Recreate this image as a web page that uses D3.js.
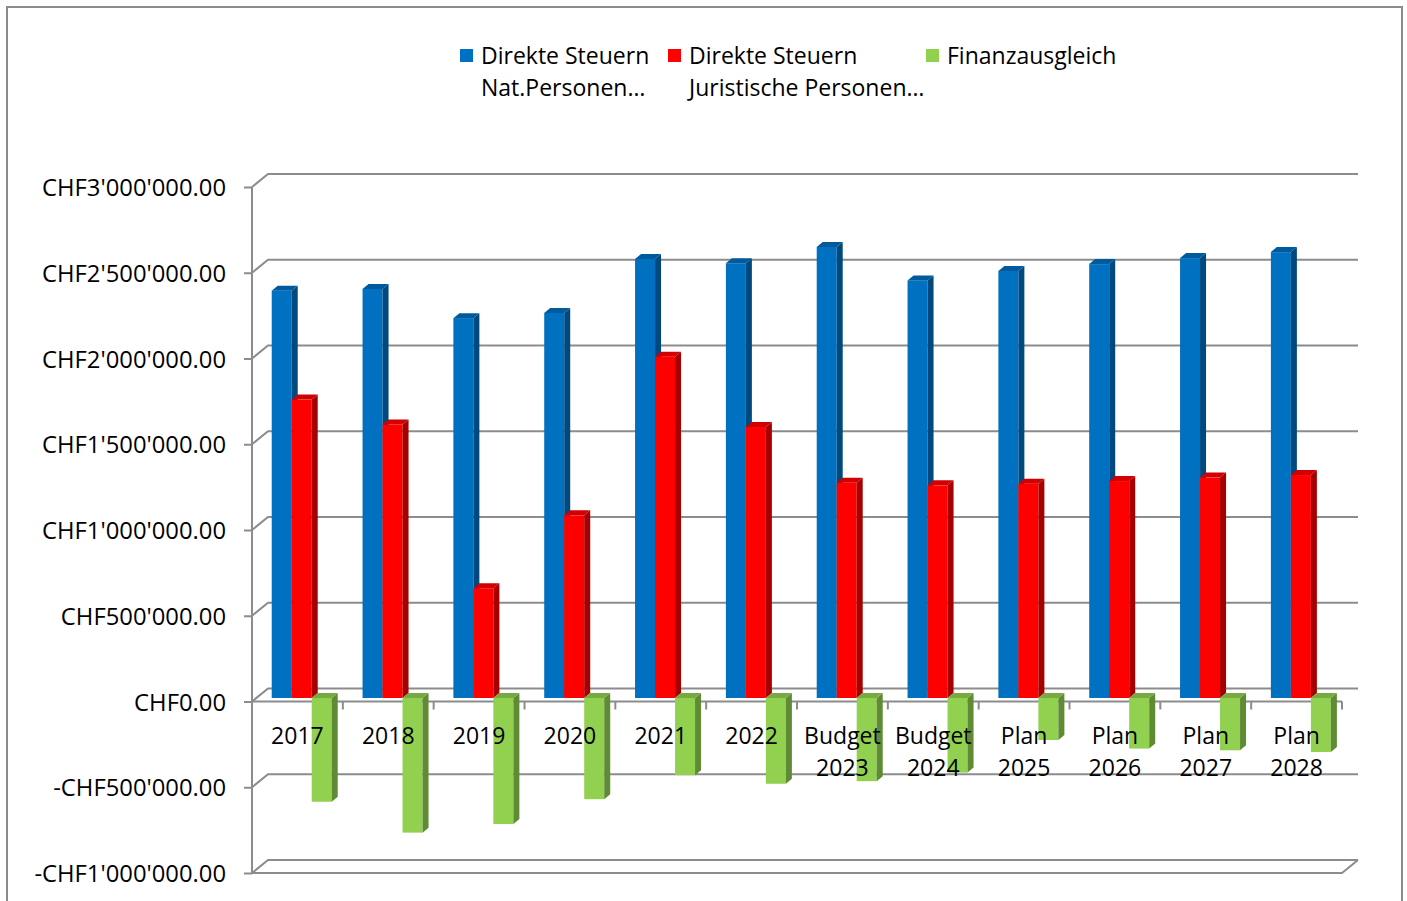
<!DOCTYPE html>
<html>
<head>
<meta charset="utf-8">
<script src="https://d3js.org/d3.v7.min.js"></script>
<style>
  body { margin: 0; background: #fff; }
  text { font-family: "Open Sans", "Noto Sans", sans-serif; fill: #000; }
</style>
</head>
<body>
<svg width="1407" height="901"></svg>
<script>
// data
var categories = ["2017", "2018", "2019", "2020", "2021", "2022",
  "Budget 2023", "Budget 2024", "Plan 2025", "Plan 2026", "Plan 2027", "Plan 2028"];
var natPersonen = [2375000, 2385000, 2215000, 2245000, 2560000, 2535000,
  2630000, 2435000, 2490000, 2530000, 2565000, 2600000];
var jurPersonen = [1740000, 1595000, 640000, 1065000, 1990000, 1580000,
  1255000, 1240000, 1250000, 1265000, 1285000, 1300000];
var finanzausgleich = [-605000, -785000, -735000, -590000, -450000, -500000,
  -485000, -435000, -245000, -295000, -305000, -315000];
var seriesNames = [["Direkte Steuern", "Nat.Personen…"],
  ["Direkte Steuern", "Juristische Personen…"],
  ["Finanzausgleich"]];
var yTicks = [-1000000, -500000, 0, 500000, 1000000, 1500000, 2000000, 2500000, 3000000];

var svg = d3.select("svg");
var fontSize = 23;

// chart frame
svg.append("rect")
  .attr("x", 7).attr("y", 7)
  .attr("width", 1395).attr("height", 910)
  .attr("fill", "none").attr("stroke", "#8c8c8c").attr("stroke-width", 2);

var left = 252, right = 1342,
    depthX = 16, depthY = 13;   // 3d offset of back wall

var x0 = d3.scaleBand().domain(categories).range([left, right]);
var x1 = d3.scaleBand().domain([0, 1, 2]).range([0, 60]);
var y = d3.scaleLinear().domain([-1000000, 3000000]).range([873, 187]);

var colors = [
  {front: "#0070C0", side: "#00497f", top: "#005a9c"},
  {front: "#FF0000", side: "#a60000", top: "#d20000"},
  {front: "#92D050", side: "#5f8b34", top: "#77aa41"}
];

var grid = svg.append("g")
  .attr("stroke", "#8c8c8c").attr("stroke-width", 2).attr("fill", "none");

// back wall gridlines with diagonal on the side wall
yTicks.forEach(function(t) {
  var yf = y(t);
  grid.append("path")
    .attr("d", "M" + left + "," + yf + "L" + (left + depthX) + "," + (yf - depthY) +
      "H" + (right + depthX));
});
// floor at zero (front edge) and base at bottom
grid.append("path").attr("d", "M" + left + "," + y(0) + "H" + right);
grid.append("path").attr("d", "M" + left + "," + y(-1000000) + "H" + right +
  "L" + (right + depthX) + "," + (y(-1000000) - depthY));
// vertical axis
grid.append("path").attr("d", "M" + left + "," + y(3000000) + "V" + y(-1000000));

// category boundary ticks
grid.selectAll(".ctick")
  .data(categories)
  .enter().append("path")
  .attr("d", function(d) {
    var xx = x0(d) + x0.bandwidth();
    return "M" + xx + "," + y(0) + "V" + (y(0) + 8);
  });

// y axis labels
var locale = d3.formatLocale({decimal: ".", thousands: "'", grouping: [3],
  currency: ["CHF", ""], minus: "-"});
var fmt = locale.format("$,.2f");

var yAxis = svg.append("g")
  .attr("transform", "translate(" + left + ",0)")
  .call(d3.axisLeft(y).tickValues(yTicks).tickFormat(fmt).tickSize(8).tickPadding(18));
yAxis.select(".domain").remove();
yAxis.selectAll(".tick line").attr("stroke", "#8c8c8c").attr("stroke-width", 2);
yAxis.selectAll(".tick text")
  .style("font-family", "'Open Sans', sans-serif")
  .attr("font-size", 23.8).attr("dy", "0.36em");

// bars
var barW = x1.bandwidth(),
    bdx = 6, bdy = 5,         // bar depth
    barShiftY = -3.5;         // bars sit in the middle of the floor depth

var seriesData = [natPersonen, jurPersonen, finanzausgleich];
var bars = svg.append("g");

categories.forEach(function(c, i) {
  var gx = x0(c) + (x0.bandwidth() - 60) / 2 + 4.3;
  seriesData.forEach(function(vals, s) {
    var v = vals[i];
    var xl = gx + x1(s);
    var y0 = y(0) + barShiftY, yv = y(v) + barShiftY;
    var yTop = Math.min(y0, yv), yBot = Math.max(y0, yv);
    var col = colors[s];
    var g = bars.append("g");
    g.append("rect")
      .attr("x", xl).attr("y", yTop)
      .attr("width", barW).attr("height", yBot - yTop)
      .attr("fill", col.front);
    g.append("path")
      .attr("d", "M" + (xl + barW) + "," + yTop + "l" + bdx + "," + (-bdy) +
        "V" + (yBot - bdy) + "l" + (-bdx) + "," + bdy + "Z")
      .attr("fill", col.side);
    g.append("path")
      .attr("d", "M" + xl + "," + yTop + "l" + bdx + "," + (-bdy) +
        "h" + barW + "l" + (-bdx) + "," + bdy + "Z")
      .attr("fill", col.top);
  });
});

// category labels
var xLabels = svg.append("g");
categories.forEach(function(c) {
  var parts = c.split(" ");
  var t = xLabels.append("text")
    .attr("x", x0(c) + x0.bandwidth() / 2)
    .attr("y", 744)
    .attr("text-anchor", "middle")
    .attr("font-size", fontSize);
  parts.forEach(function(p, k) {
    t.append("tspan")
      .attr("x", x0(c) + x0.bandwidth() / 2)
      .attr("dy", k === 0 ? 0 : 32)
      .text(p);
  });
});

// legend
var legendX = [460, 668, 926];
var legend = svg.append("g");
seriesNames.forEach(function(lines, s) {
  legend.append("rect")
    .attr("x", legendX[s]).attr("y", 49)
    .attr("width", 13).attr("height", 13)
    .attr("fill", colors[s].front);
  var t = legend.append("text")
    .attr("x", legendX[s] + 21).attr("y", 64)
    .attr("font-size", fontSize);
  lines.forEach(function(l, k) {
    t.append("tspan")
      .attr("x", legendX[s] + 21)
      .attr("dy", k === 0 ? 0 : 32)
      .text(l);
  });
});
</script>
</body>
</html>
